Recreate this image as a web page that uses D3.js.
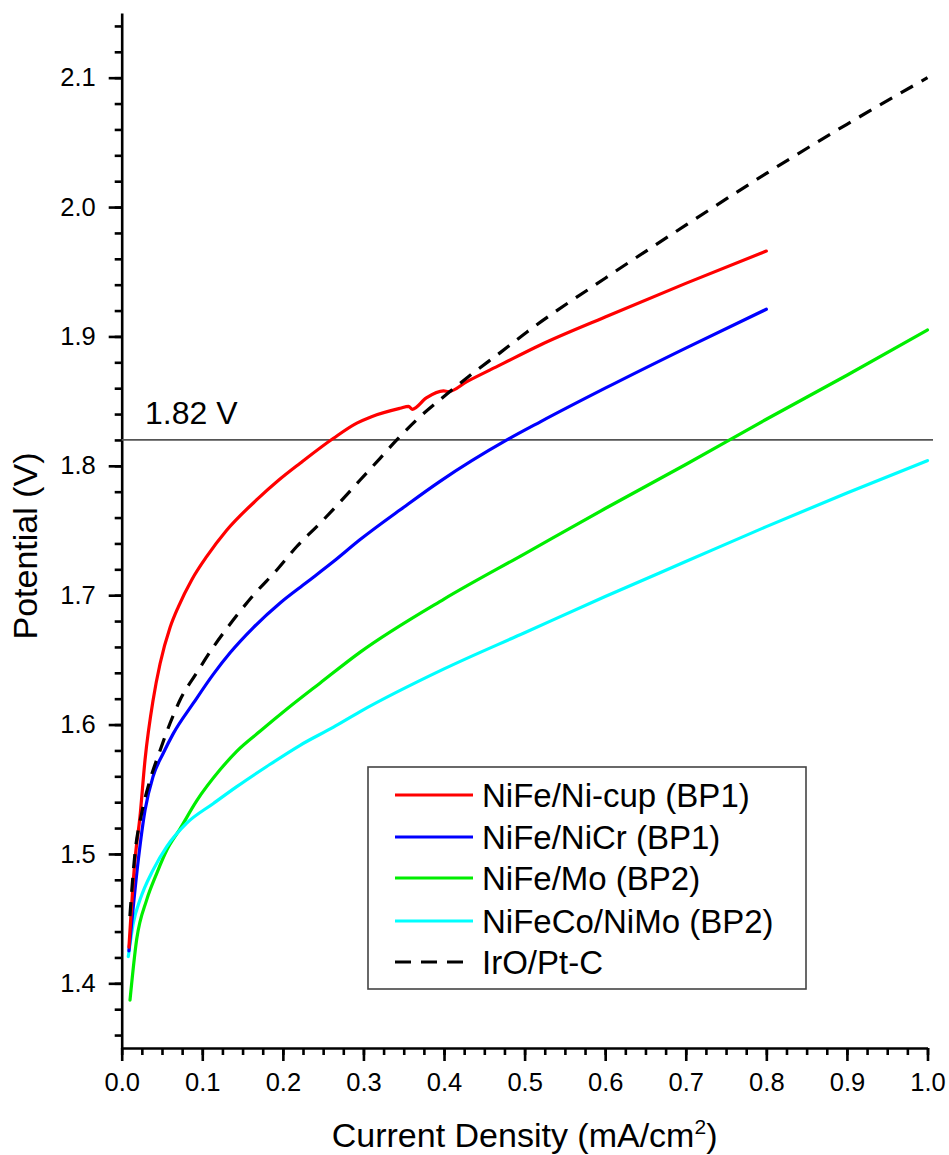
<!DOCTYPE html>
<html>
<head>
<meta charset="utf-8">
<script src="https://cdn.jsdelivr.net/npm/d3@7"></script>
<style>
  html, body { margin: 0; padding: 0; background: #fff; }
  svg { display: block; font-family: "Liberation Sans", Arial, sans-serif; }
</style>
</head>
<body>
<svg id="chart" width="949" height="1155"></svg>
<script>
// ---------- data ----------
const seriesNames = ["NiFe/Ni-cup (BP1)", "NiFe/NiCr (BP1)", "NiFe/Mo (BP2)", "NiFeCo/NiMo (BP2)", "IrO/Pt-C"];
const seriesColors = ["#ff0000", "#0000ff", "#00ee00", "#00ffff", "#000000"];

const redX = [0.009, 0.0165, 0.0227, 0.029, 0.039, 0.0476, 0.060, 0.0703, 0.087, 0.1056, 0.130, 0.168, 0.195, 0.2214, 0.2628, 0.2918, 0.310, 0.3456, 0.356, 0.3605, 0.378, 0.3994, 0.4056, 0.4284, 0.4698, 0.5195, 0.6, 0.7, 0.8];
const redY = [1.428, 1.4955, 1.529, 1.573, 1.619, 1.647, 1.675, 1.691, 1.712, 1.730, 1.750, 1.774, 1.789, 1.802, 1.8213, 1.833, 1.838, 1.8445, 1.846, 1.8437, 1.8525, 1.8579, 1.8574, 1.8651, 1.878, 1.8934, 1.915, 1.941, 1.966];

const blueX = [0.009, 0.0206, 0.029, 0.039, 0.0517, 0.064, 0.0889, 0.1138, 0.1345, 0.1634, 0.1966, 0.2297, 0.2628, 0.2959, 0.35, 0.395, 0.478, 0.5195, 0.6, 0.7, 0.8];
const blueY = [1.425, 1.4955, 1.534, 1.560, 1.578, 1.593, 1.6165, 1.639, 1.6555, 1.675, 1.694, 1.710, 1.726, 1.743, 1.768, 1.788, 1.820, 1.834, 1.860, 1.891, 1.921];

const greenX = [0.0103, 0.0186, 0.031, 0.0435, 0.056, 0.072, 0.093, 0.122, 0.143, 0.172, 0.205, 0.246, 0.296, 0.4, 0.5, 0.6, 0.7, 0.8, 0.9, 1.0];
const greenY = [1.387, 1.434, 1.4645, 1.485, 1.503, 1.519, 1.541, 1.565, 1.5795, 1.595, 1.612, 1.632, 1.656, 1.697, 1.732, 1.767, 1.801, 1.836, 1.870, 1.905];

const cyanX = [0.0082, 0.0144, 0.0227, 0.039, 0.0559, 0.0807, 0.1138, 0.1428, 0.180, 0.2214, 0.2628, 0.2959, 0.4, 0.5, 0.6, 0.7, 0.8, 0.9, 1.0];
const cyanY = [1.4207, 1.4465, 1.4645, 1.4877, 1.5057, 1.5238, 1.539, 1.552, 1.5676, 1.584, 1.598, 1.610, 1.643, 1.671, 1.699, 1.726, 1.753, 1.779, 1.804];

const blackX = [0.0102, 0.0165, 0.0248, 0.0351, 0.0476, 0.060, 0.0724, 0.0931, 0.1138, 0.1386, 0.1634, 0.1925, 0.2173, 0.2462, 0.271, 0.2959, 0.3209, 0.339, 0.366, 0.4036, 0.4366, 0.4698, 0.503, 0.6, 0.7, 0.8, 0.9, 1.0];
const blackY = [1.452, 1.5006, 1.5315, 1.557, 1.580, 1.601, 1.619, 1.640, 1.660, 1.681, 1.700, 1.7195, 1.7376, 1.7556, 1.772, 1.789, 1.806, 1.8185, 1.8355, 1.8555, 1.872, 1.8875, 1.9035, 1.945, 1.986, 2.026, 2.064, 2.100];

const xMajorTicks = [0.0, 0.1, 0.2, 0.3, 0.4, 0.5, 0.6, 0.7, 0.8, 0.9, 1.0];
const xTickLabels = ["0.0", "0.1", "0.2", "0.3", "0.4", "0.5", "0.6", "0.7", "0.8", "0.9", "1.0"];
const yMajorTicks = [1.4, 1.5, 1.6, 1.7, 1.8, 1.9, 2.0, 2.1];
const yTickLabels = ["1.4", "1.5", "1.6", "1.7", "1.8", "1.9", "2.0", "2.1"];
const refLevel = 1.82;
const refLabel = "1.82 V";

// ---------- layout ----------
const svg = d3.select("#chart");
const x = d3.scaleLinear().domain([0, 1.0]).range([121.7, 927.5]);
const y = d3.scaleLinear().domain([1.35, 2.15]).range([1048, 13]);

const xMinor = d3.range(0, 41).map(i => i * 0.025);
const yMinor = d3.range(0, 40).map(i => +(1.36 + i * 0.02).toFixed(2));

const axisColor = "#000";
const axisW = 2.6;

// minor ticks
svg.append("g").attr("transform", `translate(0,${y(1.35)})`)
  .call(d3.axisBottom(x).tickValues(xMinor).tickSize(7).tickFormat(""))
  .call(g => g.select(".domain").remove())
  .call(g => g.selectAll("line").attr("stroke", axisColor).attr("stroke-width", axisW));
svg.append("g").attr("transform", `translate(${x(0)},0)`)
  .call(d3.axisLeft(y).tickValues(yMinor).tickSize(7).tickFormat(""))
  .call(g => g.select(".domain").remove())
  .call(g => g.selectAll("line").attr("stroke", axisColor).attr("stroke-width", axisW));

// major axes
const xAxis = svg.append("g").attr("transform", `translate(0,${y(1.35)})`)
  .call(d3.axisBottom(x).tickValues(xMajorTicks).tickSize(13).tickPadding(12)
        .tickFormat((d, i) => xTickLabels[i]).tickSizeOuter(0));
const yAxis = svg.append("g").attr("transform", `translate(${x(0)},0)`)
  .call(d3.axisLeft(y).tickValues(yMajorTicks).tickSize(13).tickPadding(13)
        .tickFormat((d, i) => yTickLabels[i]).tickSizeOuter(0));
[xAxis, yAxis].forEach(g => {
  g.select(".domain").attr("stroke", axisColor).attr("stroke-width", axisW);
  g.selectAll("line").attr("stroke", axisColor).attr("stroke-width", axisW);
  g.selectAll("text").attr("fill", "#000").attr("font-size", "25.5px")
    .attr("font-family", "'Liberation Sans', Arial, sans-serif");
});

// reference line
svg.append("line")
  .attr("x1", x(0)).attr("x2", 933)
  .attr("y1", y(refLevel)).attr("y2", y(refLevel))
  .attr("stroke", "#555").attr("stroke-width", 1.8);
svg.append("text")
  .attr("x", 145).attr("y", y(refLevel) - 16)
  .attr("font-size", "32px").attr("fill", "#000")
  .text(refLabel);

// series
const series = [
  { name: seriesNames[0], color: seriesColors[0], xs: redX, ys: redY, dash: null },
  { name: seriesNames[1], color: seriesColors[1], xs: blueX, ys: blueY, dash: null },
  { name: seriesNames[2], color: seriesColors[2], xs: greenX, ys: greenY, dash: null },
  { name: seriesNames[3], color: seriesColors[3], xs: cyanX, ys: cyanY, dash: null },
  { name: seriesNames[4], color: seriesColors[4], xs: blackX, ys: blackY, dash: "14,10" }
];

const line = d3.line().x(d => x(d[0])).y(d => y(d[1])).curve(d3.curveMonotoneX);

const drawOrder = [2, 3, 1, 0, 4];
drawOrder.forEach(i => {
  const s = series[i];
  const pts = s.xs.map((v, k) => [v, s.ys[k]]);
  svg.append("path")
    .datum(pts)
    .attr("d", line)
    .attr("fill", "none")
    .attr("stroke", s.color)
    .attr("stroke-width", 3.2)
    .attr("stroke-linejoin", "round")
    .attr("stroke-linecap", s.dash ? "butt" : "round")
    .attr("stroke-dasharray", s.dash);
});

// legend
const lg = svg.append("g");
lg.append("rect")
  .attr("x", 368).attr("y", 767).attr("width", 438).attr("height", 222)
  .attr("fill", "#fff").attr("stroke", "#444").attr("stroke-width", 1.6);
const rowY = [795, 837, 878, 921, 962];
series.forEach((s, i) => {
  lg.append("line")
    .attr("x1", 395).attr("x2", 473)
    .attr("y1", rowY[i]).attr("y2", rowY[i])
    .attr("stroke", s.color).attr("stroke-width", 3.2)
    .attr("stroke-dasharray", s.dash ? "16,10" : null);
  lg.append("text")
    .attr("x", 482).attr("y", rowY[i] + 11.5)
    .attr("font-size", "33px").attr("fill", "#000")
    .text(s.name);
});

// axis titles
const xt = svg.append("text")
  .attr("x", (x(0) + x(1)) / 2).attr("y", 1147)
  .attr("text-anchor", "middle")
  .attr("font-size", "34px").attr("fill", "#000");
xt.append("tspan").text("Current Density (mA/cm");
xt.append("tspan").attr("dy", -13).attr("font-size", "21px").text("2");
xt.append("tspan").attr("dy", 13).text(")");

svg.append("text")
  .attr("transform", "translate(37,546) rotate(-90)")
  .attr("text-anchor", "middle")
  .attr("font-size", "34px").attr("fill", "#000")
  .text("Potential (V)");
</script>
</body>
</html>
